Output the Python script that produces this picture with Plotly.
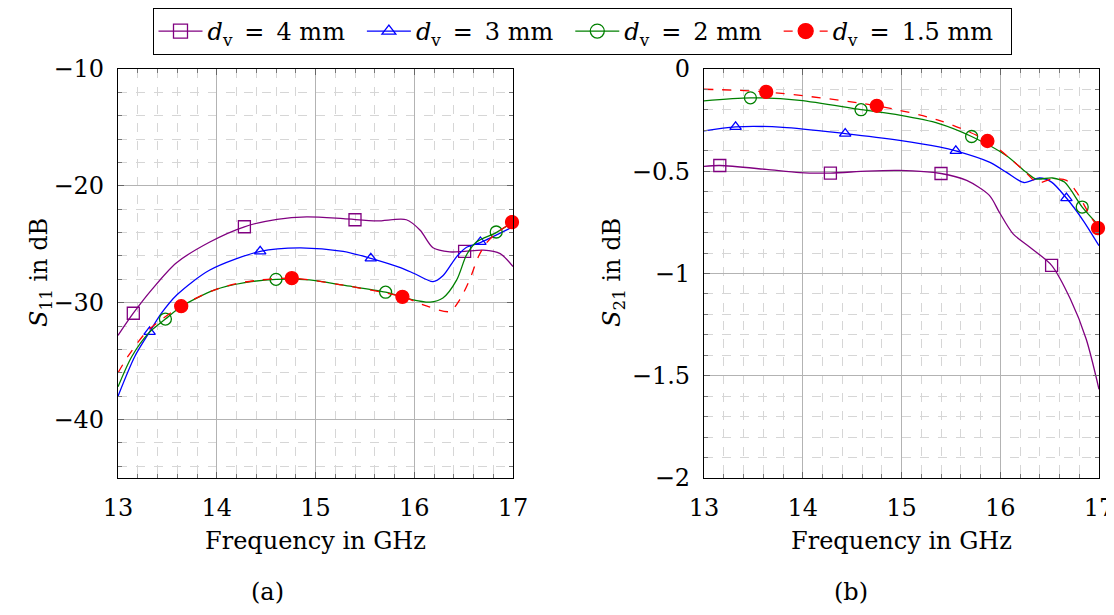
import plotly.graph_objects as go

# ---------------- data ----------------
series_names = ["4 mm", "3 mm", "2 mm", "1.5 mm"]

# S11 (left)
s11_x_4 = [13.0, 13.155, 13.34, 13.59, 13.93, 14.28, 14.61, 14.91, 15.28, 15.62, 15.92, 16.06, 16.19, 16.36, 16.51, 16.7, 16.87, 17.0]
s11_y_4 = [-32.8, -30.9, -28.9, -26.6, -24.8, -23.5, -22.86, -22.65, -22.8, -23.0, -22.9, -23.8, -25.3, -25.65, -25.6, -25.5, -25.8, -26.9]
s11_x_3 = [13.0, 13.17, 13.32, 13.44, 13.6, 13.93, 14.44, 14.84, 15.28, 15.56, 15.86, 16.0, 16.19, 16.29, 16.43, 16.53, 16.67, 17.0]
s11_y_3 = [-38.0, -34.6, -32.5, -30.9, -29.3, -27.2, -25.6, -25.3, -25.6, -26.2, -27.0, -27.5, -28.2, -27.7, -26.05, -25.25, -24.85, -23.5]
s11_x_2 = [13.0, 13.14, 13.31, 13.48, 13.645, 13.98, 14.27, 14.6, 14.94, 15.28, 15.71, 15.96, 16.16, 16.29, 16.43, 16.53, 16.63, 16.83, 17.0]
s11_y_2 = [-37.2, -34.6, -32.6, -31.4, -30.3, -28.9, -28.3, -28.0, -28.05, -28.5, -29.1, -29.7, -29.95, -29.6, -28.05, -25.9, -24.8, -24.0, -23.1]
s11_x_15 = [13.0, 13.1, 13.3, 13.64, 13.98, 14.27, 14.76, 15.28, 15.88, 16.13, 16.36, 16.46, 16.56, 16.65, 16.73, 16.83, 17.0]
s11_y_15 = [-36.0, -34.6, -32.4, -30.3, -28.9, -28.25, -27.9, -28.5, -29.5, -30.3, -30.75, -29.75, -28.05, -26.05, -24.9, -24.05, -23.1]

s11_mx_4 = [13.155, 14.28, 15.40, 16.51]
s11_my_4 = [-30.9, -23.5, -22.9, -25.6]
s11_mx_3 = [13.32, 14.44, 15.56, 16.67]
s11_my_3 = [-32.5, -25.6, -26.2, -24.8]
s11_mx_2 = [13.48, 14.60, 15.71, 16.83]
s11_my_2 = [-31.4, -28.0, -29.1, -23.95]
s11_mx_15 = [13.64, 14.76, 15.88, 16.99]
s11_my_15 = [-30.3, -27.9, -29.5, -23.1]

# S21 (right)
s21_x_4 = [13.0, 13.16, 13.63, 13.97, 14.28, 14.65, 14.98, 15.40, 15.66, 15.89, 15.99, 16.13, 16.30, 16.52, 16.71, 16.87, 17.0]
s21_y_4 = [-0.476, -0.472, -0.491, -0.507, -0.509, -0.499, -0.496, -0.511, -0.545, -0.618, -0.70, -0.806, -0.872, -0.96, -1.125, -1.32, -1.566]
s21_x_3 = [13.0, 13.32, 13.80, 14.43, 14.98, 15.38, 15.55, 15.89, 16.06, 16.24, 16.40, 16.52, 16.67, 16.84, 17.0]
s21_y_3 = [-0.303, -0.283, -0.285, -0.316, -0.349, -0.381, -0.40, -0.455, -0.504, -0.555, -0.533, -0.553, -0.631, -0.741, -0.864]
s21_x_2 = [13.0, 13.47, 13.97, 14.59, 14.98, 15.38, 15.71, 16.06, 16.26, 16.36, 16.53, 16.65, 16.83, 17.0]
s21_y_2 = [-0.156, -0.141, -0.153, -0.199, -0.226, -0.267, -0.33, -0.423, -0.504, -0.537, -0.533, -0.553, -0.675, -0.766]
s21_x_15 = [13.0, 13.63, 14.75, 15.38, 15.87, 16.22, 16.38, 16.53, 16.67, 16.77, 16.93, 17.0]
s21_y_15 = [-0.099, -0.112, -0.18, -0.251, -0.352, -0.488, -0.556, -0.537, -0.545, -0.60, -0.733, -0.778]

s21_mx_4 = [13.16, 14.28, 15.40, 16.52]
s21_my_4 = [-0.472, -0.509, -0.511, -0.96]
s21_mx_3 = [13.32, 14.43, 15.55, 16.67]
s21_my_3 = [-0.283, -0.316, -0.40, -0.631]
s21_mx_2 = [13.47, 14.59, 15.71, 16.83]
s21_my_2 = [-0.141, -0.199, -0.33, -0.675]
s21_mx_15 = [13.63, 14.75, 15.87, 16.99]
s21_my_15 = [-0.112, -0.18, -0.352, -0.778]

# ---------------- styles ----------------
FONT = "DejaVu Serif"
FS = 24
colors = ["#800080", "#0000ff", "#008000", "#ff0000"]
symbols = ["square-open", "triangle-up-open", "circle-open", "circle"]
msizes = [12, 10, 12, 13]
dashes = ["solid", "solid", "solid", "dash"]

left = [(s11_x_4, s11_y_4, s11_mx_4, s11_my_4), (s11_x_3, s11_y_3, s11_mx_3, s11_my_3),
        (s11_x_2, s11_y_2, s11_mx_2, s11_my_2), (s11_x_15, s11_y_15, s11_mx_15, s11_my_15)]
right = [(s21_x_4, s21_y_4, s21_mx_4, s21_my_4), (s21_x_3, s21_y_3, s21_mx_3, s21_my_3),
         (s21_x_2, s21_y_2, s21_mx_2, s21_my_2), (s21_x_15, s21_y_15, s21_mx_15, s21_my_15)]

fig = go.Figure()
for panel, (xa, ya) in ((left, ("x", "y")), (right, ("x2", "y2"))):
    for i, (cx, cy, mx, my) in enumerate(panel):
        fig.add_trace(go.Scatter(x=cx, y=cy, mode="lines", xaxis=xa, yaxis=ya,
                                 line=dict(color=colors[i], width=1.3, dash=dashes[i], shape="spline", smoothing=0.8),
                                 showlegend=False, hoverinfo="skip"))
        fig.add_trace(go.Scatter(x=mx, y=my, mode="markers", xaxis=xa, yaxis=ya, cliponaxis=False,
                                 marker=dict(symbol=symbols[i], size=msizes[i], color=colors[i],
                                             line=dict(color=colors[i], width=1.3)),
                                 showlegend=False))

for i, name in enumerate(series_names):
    fig.add_trace(go.Scatter(x=[None], y=[None], mode="lines+markers", xaxis="x", yaxis="y",
                             name="<i>d</i><sub>v</sub>\u2002=\u2002" + name + "\u2002",
                             line=dict(color=colors[i], width=1.3, dash=dashes[i]),
                             marker=dict(symbol=symbols[i], size=msizes[i] + 2, color=colors[i],
                                         line=dict(color=colors[i], width=1.3))))

# page body has an 8px margin: the figure is drawn from (8, 8)
OX, OY = 8, 8
W, H = 1114 - OX, 615 - OY
def px(x):
    return (x - OX) / W
def py(y):
    return 1 - (y - OY) / H

def axis(domain, rng, dtick, mdtick, **kw):
    return dict(domain=domain, range=rng, dtick=dtick, automargin=False,
                showline=True, linecolor="black", linewidth=1.2, mirror="allticks",
                ticks="inside", ticklen=6, tickcolor="#666", ticklabelstandoff=8,
                ticklabeloverflow="allow",
                showgrid=True, gridcolor="#b3b3b3", gridwidth=1, zeroline=False,
                minor=dict(dtick=mdtick, ticks="inside", ticklen=4, tickcolor="#777",
                           showgrid=True, gridcolor="#d6d6d6", griddash="dash", gridwidth=1),
                tickfont=dict(family=FONT, size=FS, color="black"), **kw)

yd = [py(478), py(69)]
fig.update_layout(
    width=W, height=H, margin=dict(l=0, r=0, t=0, b=0, autoexpand=False),
    plot_bgcolor="white", paper_bgcolor="white",
    xaxis=axis([px(118), px(513)], [13, 17], 1, 0.2, anchor="y"),
    yaxis=axis(yd, [-45, -10], 10, 2, anchor="x", tickvals=[-40, -30, -20, -10]),
    xaxis2=axis([px(704), px(1099)], [13, 17], 1, 0.2, anchor="y2"),
    yaxis2=axis(yd, [-2, 0], 0.5, 0.1, anchor="x2", tickformat="~g"),
    legend=dict(orientation="h", x=px(582), xanchor="center", y=1, yanchor="top",
                bordercolor="black", borderwidth=1, bgcolor="white",
                font=dict(family=FONT, size=FS, color="black"), itemwidth=44,
                tracegroupgap=0),
    showlegend=True,
)

ann_font = dict(family=FONT, size=FS, color="black")
annotations = [
    dict(text="Frequency in GHz", x=px((118 + 513) / 2), y=py(541)),
    dict(text="Frequency in GHz", x=px((704 + 1099) / 2), y=py(541)),
    dict(text="(a)", x=px(267), y=py(592)),
    dict(text="(b)", x=px(851), y=py(592)),
    dict(text="<i>S</i><sub>11</sub> in dB", x=px(40), y=py(273), textangle=-90),
    dict(text="<i>S</i><sub>21</sub> in dB", x=px(613), y=py(273), textangle=-90),
]
for a in annotations:
    fig.add_annotation(xref="paper", yref="paper", showarrow=False, xanchor="center",
                       yanchor="middle", font=ann_font, **a)

fig.write_html("out.html")
